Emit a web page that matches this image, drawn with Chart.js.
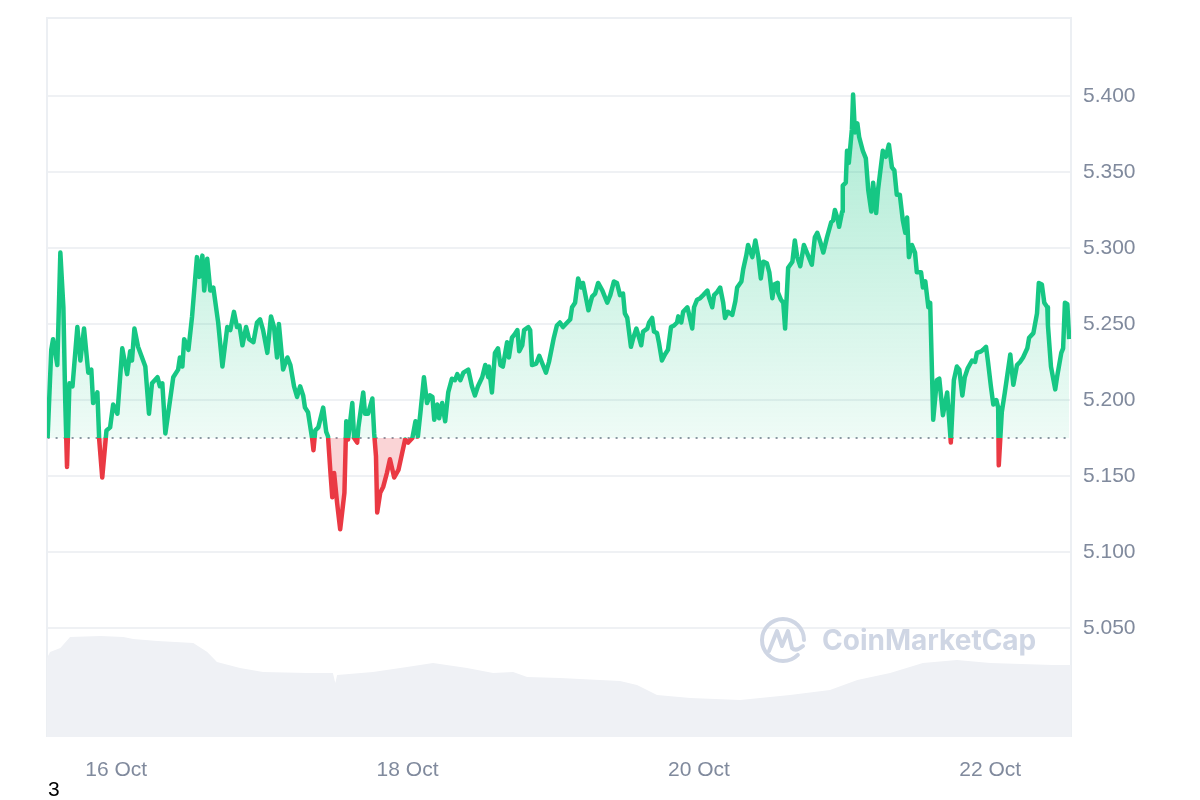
<!DOCTYPE html>
<html>
<head>
<meta charset="utf-8">
<script src="https://cdn.jsdelivr.net/npm/chart.js@4.4.0/dist/chart.umd.min.js"></script>
<style>
  html, body { margin: 0; padding: 0; background: #fff; }
  #wrap { position: relative; width: 1200px; height: 800px; }
  #note { position: absolute; left: 48px; top: 777px; font: 21px "Liberation Sans", Arial, sans-serif; color: #000; }
</style>
</head>
<body>
<div id="wrap">
  <canvas id="priceChart"></canvas>
  <div id="note">3</div>
</div>
<script>
// time in hours from 15 Oct 00:00
const priceHours = [12.7, 13.3, 13.6, 14.3, 14.8, 15.3, 15.6, 15.9, 16.3, 16.8, 17.6, 18.1, 18.7, 19.4, 19.9, 20.2, 20.9, 21.2, 21.7, 22.4, 23.0, 23.5, 24.2, 25.0, 25.8, 26.3, 26.6, 27.0, 27.6, 28.8, 29.4, 29.9, 30.8, 31.2, 31.6, 32.1, 32.7, 33.4, 34.2, 34.5, 34.9, 35.2, 35.9, 36.5, 37.3, 37.7, 38.2, 38.5, 39.0, 39.5, 40.0, 40.8, 41.5, 42.3, 42.8, 43.4, 43.9, 44.3, 44.8, 45.4, 45.9, 46.6, 47.2, 47.7, 48.2, 48.9, 49.5, 50.0, 50.5, 50.8, 51.5, 52.2, 52.7, 53.3, 53.8, 54.3, 54.8, 55.1, 55.6, 56.3, 56.5, 56.8, 57.3, 58.1, 58.6, 58.9, 59.3, 59.6, 59.9, 60.4, 60.9, 61.6, 61.9, 62.2, 62.9, 63.2, 63.7, 63.9, 64.7, 65.0, 65.5, 66.2, 66.5, 66.8, 67.0, 67.5, 68.0, 68.6, 69.1, 69.8, 70.5, 71.1, 71.6, 72.1, 72.8, 73.3, 73.7, 74.1, 74.7, 75.2, 75.7, 76.1, 76.4, 76.9, 77.2, 77.7, 78.2, 78.7, 79.3, 79.8, 80.2, 80.7, 81.2, 82.0, 82.6, 83.1, 83.6, 84.3, 84.8, 85.3, 85.4, 85.9, 86.4, 86.9, 87.3, 87.7, 88.4, 88.7, 89.2, 89.6, 90.1, 90.4, 90.9, 91.2, 91.9, 92.2, 92.5, 93.2, 93.7, 94.2, 94.8, 95.3, 95.8, 96.1, 96.6, 97.1, 97.6, 98.3, 98.8, 99.1, 99.6, 100.1, 100.6, 100.9, 101.4, 101.8, 102.4, 102.9, 103.4, 104.1, 104.9, 105.4, 106.0, 106.5, 107.0, 107.5, 107.8, 108.2, 108.8, 109.2, 109.7, 110.0, 110.5, 110.8, 111.5, 111.8, 112.3, 112.6, 113.1, 113.4, 113.9, 114.4, 114.9, 115.4, 115.9, 116.4, 116.6, 117.1, 117.4, 118.1, 118.4, 118.9, 119.2, 119.7, 120.2, 120.7, 121.4, 121.7, 122.2, 122.5, 123.0, 123.5, 124.0, 124.3, 124.8, 125.5, 126.0, 126.3, 127.0, 127.3, 127.8, 128.1, 128.8, 129.3, 129.8, 130.2, 130.6, 131.2, 131.6, 132.1, 132.4, 132.9, 133.0, 133.5, 133.9, 134.2, 134.7, 135.4, 135.8, 136.2, 136.7, 137.3, 137.8, 138.6, 139.1, 139.5, 140.0, 140.5, 141.1, 141.8, 142.1, 142.4, 142.8, 143.1, 143.6, 143.7, 144.2, 144.4, 144.7, 145.2, 145.4, 145.7, 146.1, 146.4, 147.0, 147.5, 147.9, 148.4, 148.7, 149.2, 149.5, 150.3, 150.8, 151.3, 151.8, 152.2, 152.6, 153.1, 153.6, 154.0, 154.3, 154.6, 155.1, 155.6, 155.9, 156.6, 156.9, 157.3, 157.8, 158.1, 158.6, 159.2, 159.6, 160.2, 160.9, 161.5, 162.0, 162.5, 162.9, 163.4, 163.8, 164.3, 165.0, 165.5, 165.8, 166.5, 166.8, 167.3, 167.6, 168.1, 168.5, 169.0, 169.3, 169.4, 169.9, 170.4, 171.3, 171.8, 172.4, 172.9, 173.4, 174.1, 174.4, 175.1, 175.7, 176.0, 176.5, 176.9, 177.4, 177.5, 178.0, 178.7, 179.0, 179.7, 180.0, 180.3, 180.7, 181.0];

const prices = [5.175, 5.233, 5.240, 5.223, 5.297, 5.261, 5.200, 5.156, 5.211, 5.209, 5.248, 5.226, 5.247, 5.218, 5.220, 5.198, 5.205, 5.174, 5.149, 5.180, 5.182, 5.197, 5.191, 5.234, 5.217, 5.232, 5.226, 5.247, 5.235, 5.222, 5.191, 5.211, 5.215, 5.209, 5.211, 5.178, 5.195, 5.215, 5.220, 5.228, 5.222, 5.240, 5.233, 5.255, 5.294, 5.281, 5.295, 5.272, 5.293, 5.272, 5.274, 5.251, 5.222, 5.248, 5.246, 5.258, 5.248, 5.249, 5.236, 5.248, 5.240, 5.238, 5.251, 5.253, 5.246, 5.231, 5.255, 5.248, 5.228, 5.250, 5.220, 5.228, 5.223, 5.209, 5.202, 5.209, 5.203, 5.195, 5.192, 5.174, 5.167, 5.180, 5.182, 5.195, 5.179, 5.176, 5.152, 5.136, 5.152, 5.132, 5.115, 5.139, 5.186, 5.174, 5.198, 5.175, 5.172, 5.182, 5.205, 5.191, 5.191, 5.201, 5.178, 5.163, 5.126, 5.139, 5.143, 5.152, 5.161, 5.149, 5.154, 5.165, 5.174, 5.172, 5.175, 5.186, 5.176, 5.191, 5.215, 5.198, 5.203, 5.202, 5.187, 5.197, 5.188, 5.198, 5.186, 5.205, 5.214, 5.213, 5.217, 5.213, 5.218, 5.220, 5.209, 5.203, 5.209, 5.215, 5.223, 5.215, 5.222, 5.205, 5.231, 5.234, 5.223, 5.222, 5.238, 5.228, 5.241, 5.243, 5.246, 5.232, 5.236, 5.246, 5.248, 5.246, 5.223, 5.224, 5.229, 5.224, 5.218, 5.225, 5.235, 5.241, 5.249, 5.251, 5.248, 5.251, 5.253, 5.261, 5.264, 5.280, 5.274, 5.277, 5.267, 5.259, 5.268, 5.270, 5.277, 5.272, 5.264, 5.269, 5.278, 5.277, 5.269, 5.270, 5.257, 5.254, 5.235, 5.241, 5.247, 5.243, 5.236, 5.245, 5.247, 5.251, 5.254, 5.245, 5.244, 5.238, 5.226, 5.230, 5.233, 5.248, 5.249, 5.251, 5.255, 5.251, 5.258, 5.261, 5.256, 5.247, 5.261, 5.266, 5.267, 5.269, 5.272, 5.267, 5.261, 5.269, 5.271, 5.274, 5.264, 5.254, 5.258, 5.256, 5.265, 5.274, 5.278, 5.286, 5.295, 5.302, 5.294, 5.305, 5.294, 5.280, 5.291, 5.290, 5.284, 5.267, 5.276, 5.277, 5.271, 5.266, 5.264, 5.247, 5.287, 5.291, 5.305, 5.294, 5.288, 5.302, 5.297, 5.289, 5.307, 5.310, 5.304, 5.297, 5.307, 5.317, 5.318, 5.325, 5.320, 5.314, 5.324, 5.341, 5.343, 5.364, 5.356, 5.378, 5.401, 5.376, 5.382, 5.373, 5.364, 5.359, 5.338, 5.324, 5.343, 5.323, 5.338, 5.364, 5.360, 5.368, 5.353, 5.351, 5.335, 5.335, 5.318, 5.310, 5.320, 5.294, 5.302, 5.297, 5.284, 5.284, 5.274, 5.278, 5.261, 5.264, 5.187, 5.213, 5.214, 5.190, 5.205, 5.172, 5.213, 5.222, 5.220, 5.203, 5.215, 5.221, 5.226, 5.225, 5.231, 5.232, 5.233, 5.235, 5.226, 5.209, 5.197, 5.200, 5.195, 5.157, 5.192, 5.205, 5.230, 5.210, 5.223, 5.225, 5.228, 5.234, 5.241, 5.244, 5.257, 5.277, 5.276, 5.264, 5.261, 5.249, 5.222, 5.207, 5.215, 5.231, 5.234, 5.264, 5.263, 5.240];

const volumeHours = [12.6, 13.1, 14.8, 16.4, 21.4, 25.2, 26.8, 30.8, 36.7, 39.0, 40.6, 44.4, 48.2, 55.5, 59.7, 60.1, 60.4, 66.3, 71.9, 76.2, 81.8, 86.1, 89.4, 91.7, 97.1, 107.0, 109.8, 113.1, 118.6, 126.8, 135.0, 141.6, 146.1, 151.5, 156.9, 162.5, 168.0, 178.3, 181.3];
const volumes = [7.9, 8.5, 8.9, 10.0, 10.1, 10.0, 9.8, 9.6, 9.4, 8.5, 7.5, 6.9, 6.5, 6.4, 6.4, 5.4, 6.2, 6.5, 7.0, 7.4, 6.9, 6.4, 6.5, 6.0, 5.9, 5.6, 5.2, 4.2, 3.9, 3.7, 4.2, 4.7, 5.7, 6.4, 7.4, 7.7, 7.4, 7.2, 7.2];

const openPrice = 5.175;
const yTicks = [5.05, 5.10, 5.15, 5.20, 5.25, 5.30, 5.35, 5.40];
const xTicks = [24, 72, 120, 168];
const xLabels = ['16 Oct', '18 Oct', '20 Oct', '22 Oct'];

const green = '#16c784';
const red = '#ea3943';
const labelFont = { family: '"Liberation Sans", Arial, sans-serif', size: 21 };

const n = Math.min(priceHours.length, prices.length);
if (priceHours.length !== prices.length) console.warn('length mismatch', priceHours.length, prices.length);
const pricePoints = [];
for (let i = 0; i < n; i++) pricePoints.push({ x: priceHours[i], y: prices[i] });
const volumePoints = volumeHours.map((h, i) => ({ x: h, y: volumes[i] }));

function lineGradient(chart) {
  const { ctx, chartArea, scales } = chart;
  if (!chartArea) return green;
  const yb = scales.y.getPixelForValue(openPrice);
  let t = (yb - chartArea.top) / (chartArea.bottom - chartArea.top);
  t = Math.max(0, Math.min(1, t));
  const g = ctx.createLinearGradient(0, chartArea.top, 0, chartArea.bottom);
  g.addColorStop(0, green);
  g.addColorStop(t, green);
  g.addColorStop(t, red);
  g.addColorStop(1, red);
  return g;
}

function areaGradient(chart) {
  const { ctx, chartArea, scales } = chart;
  if (!chartArea) return 'rgba(22,199,132,0.15)';
  const yb = scales.y.getPixelForValue(openPrice);
  const g = ctx.createLinearGradient(0, scales.y.getPixelForValue(5.40), 0, yb);
  g.addColorStop(0, 'rgba(22,199,132,0.36)');
  g.addColorStop(1, 'rgba(22,199,132,0.07)');
  return g;
}

const frame = {
  id: 'frame',
  beforeDatasetsDraw(chart) {
    const { ctx, chartArea: a } = chart;
    ctx.save();
    ctx.strokeStyle = '#eceff3';
    ctx.lineWidth = 2;
    ctx.beginPath();
    ctx.moveTo(a.left, a.bottom);
    ctx.lineTo(a.left, a.top);
    ctx.lineTo(a.right, a.top);
    ctx.lineTo(a.right, a.bottom);
    ctx.stroke();
    ctx.restore();
  }
};

const watermark = {
  id: 'watermark',
  afterDatasetsDraw(chart) {
    const { ctx, chartArea: a } = chart;
    const cx = a.right - 288, cy = a.bottom - 97;
    ctx.save();
    ctx.strokeStyle = '#cfd6e4';
    ctx.fillStyle = '#cfd6e4';
    ctx.lineWidth = 4;
    ctx.lineCap = 'round';
    ctx.lineJoin = 'round';
    ctx.beginPath();
    ctx.arc(cx, cy, 21, 0.25 * Math.PI, 2.0 * Math.PI);
    ctx.stroke();
    ctx.beginPath();
    ctx.moveTo(cx - 14, cy + 11);
    ctx.lineTo(cx - 6, cy - 9);
    ctx.lineTo(cx - 1, cy + 6);
    ctx.lineTo(cx + 5, cy - 9);
    ctx.lineTo(cx + 9, cy + 8);
    ctx.quadraticCurveTo(cx + 13, cy + 12, cx + 20, cy + 6);
    ctx.stroke();
    ctx.font = 'bold 28px Inter, "Liberation Sans", sans-serif';
    ctx.textBaseline = 'middle';
    ctx.fillText('CoinMarketCap', cx + 39, cy + 2, 218);
    ctx.restore();
  }
};

new Chart(document.getElementById('priceChart'), {
  type: 'line',
  data: {
    datasets: [
      {
        label: 'Price',
        data: pricePoints,
        yAxisID: 'y',
        order: 0,
        borderWidth: 4.5,
        pointRadius: 0,
        tension: 0,
        borderJoinStyle: 'round',
        borderColor: (c) => lineGradient(c.chart),
        fill: (c) => ({ target: { value: openPrice }, above: areaGradient(c.chart), below: 'rgba(234,57,67,0.22)' })
      },
      {
        label: 'Open',
        data: [{ x: priceHours[0], y: openPrice }, { x: 181.3, y: openPrice }],
        yAxisID: 'y',
        order: 1,
        borderColor: '#8f96a3',
        borderWidth: 2,
        borderDash: [2, 6],
        pointRadius: 0,
        fill: false
      },
      {
        label: 'Volume',
        data: volumePoints,
        yAxisID: 'yv',
        order: 2,
        borderWidth: 0,
        pointRadius: 0,
        backgroundColor: '#eff1f5',
        fill: 'origin'
      }
    ]
  },
  options: {
    responsive: true,
    maintainAspectRatio: false,
    animation: false,
    devicePixelRatio: 1,
    layout: { padding: { left: 47, top: 18, right: 0, bottom: 0 } },
    plugins: { legend: { display: false }, tooltip: { enabled: false } },
    scales: {
      x: {
        type: 'linear',
        min: 12.6,
        max: 181.3,
        afterBuildTicks: (axis) => { axis.ticks = xTicks.map(v => ({ value: v })); },
        afterFit: (axis) => { axis.height = 63; axis.paddingLeft = 0; axis.paddingRight = 0; },
        grid: { display: false },
        border: { display: false },
        ticks: {
          padding: 13,
          color: '#808a9d',
          font: labelFont,
          maxRotation: 0,
          callback: (v) => xLabels[xTicks.indexOf(v)]
        }
      },
      y: {
        position: 'right',
        min: 4.97829,
        max: 5.45132,
        afterBuildTicks: (axis) => { axis.ticks = yTicks.map(v => ({ value: v })); },
        afterFit: (axis) => { axis.width = 129; axis.paddingTop = 0; axis.paddingBottom = 0; },
        grid: { color: '#eff1f4', lineWidth: 2, drawTicks: false },
        border: { display: false },
        ticks: {
          padding: 12,
          color: '#808a9d',
          font: labelFont,
          callback: (v) => Number(v).toFixed(3)
        }
      },
      yv: {
        display: false,
        min: 0,
        max: 71.9
      }
    }
  },
  plugins: [frame, watermark]
});
</script>
</body>
</html>
